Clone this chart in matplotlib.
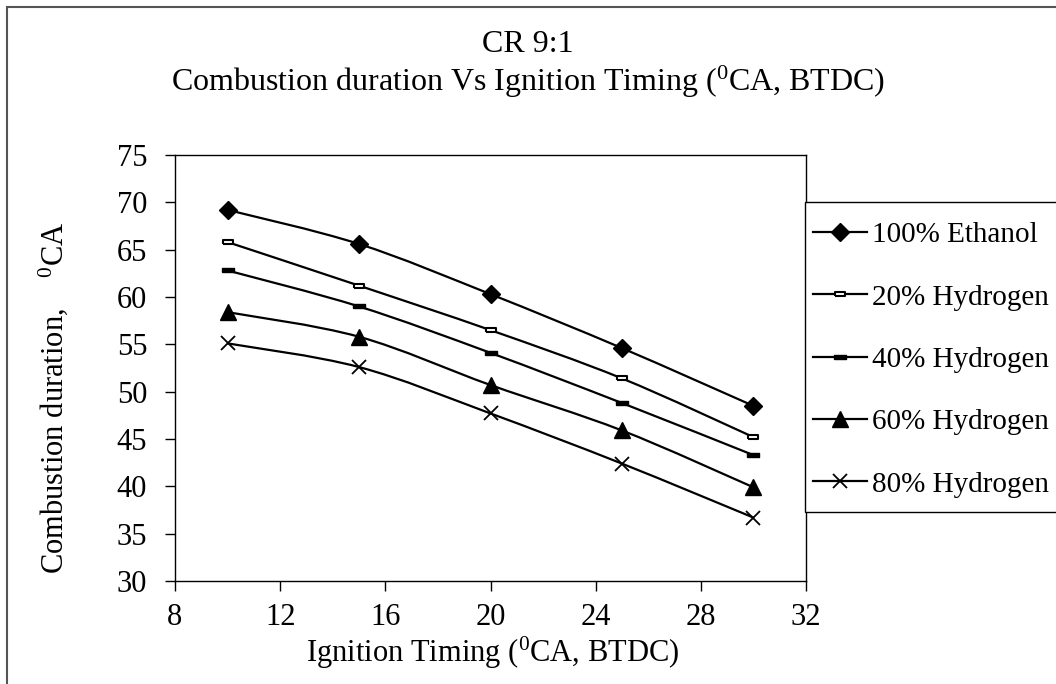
import matplotlib
matplotlib.use("Agg")
import matplotlib.pyplot as plt
import numpy as np
from matplotlib.path import Path
from matplotlib.patches import PathPatch, Rectangle
from matplotlib.lines import Line2D

plt.rcParams["font.family"] = ["Liberation Serif", "DejaVu Serif"]
plt.rcParams["mathtext.fontset"] = "custom"
plt.rcParams["mathtext.rm"] = "Liberation Serif"
plt.rcParams["mathtext.it"] = "Liberation Serif:italic"

# Ignition timing (deg CA BTDC) and combustion duration (deg CA)
ignition = [10, 15, 20, 25, 30]
ethanol_100 = [69.2, 65.6, 60.3, 54.6, 48.5]
hydrogen_20 = [65.8, 61.2, 56.5, 51.4, 45.2]
hydrogen_40 = [62.8, 59.0, 54.1, 48.8, 43.3]
hydrogen_60 = [58.4, 55.8, 50.7, 45.9, 39.9]
hydrogen_80 = [55.1, 52.6, 47.7, 42.4, 36.7]

series_labels = ["100% Ethanol", "20% Hydrogen", "40% Hydrogen",
                 "60% Hydrogen", "80% Hydrogen"]
series_values = [ethanol_100, hydrogen_20, hydrogen_40, hydrogen_60, hydrogen_80]

W, H = 1056, 684

# flat dash markers for the 20% / 40% series
_dash = [(-1, -0.38), (1, -0.38), (1, 0.38), (-1, 0.38), (-1, -0.38)]
marker_styles = [
    dict(marker="D", ms=9, mfc="black", mec="black"),
    dict(marker=_dash, ms=6.5, mfc="white", mec="black", mew=1.5),
    dict(marker=_dash, ms=9, mfc="black", mec="black"),
    dict(marker="^", ms=11, mfc="black", mec="black"),
    dict(marker="x", ms=10, mfc="black", mec="black", mew=1.3),
]


def smooth_path(x, y):
    """Catmull-Rom style smoothed line through the points, as cubic Beziers."""
    pts = np.column_stack([x, y]).astype(float)
    n = len(pts)
    verts = [pts[0]]
    codes = [Path.MOVETO]
    for i in range(n - 1):
        p0 = pts[i - 1] if i > 0 else pts[i]
        p1 = pts[i]
        p2 = pts[i + 1]
        p3 = pts[i + 2] if i + 2 < n else pts[i + 1]
        c1 = p1 + (p2 - p0) / 6.0
        c2 = p2 - (p3 - p1) / 6.0
        verts += [c1, c2, p2]
        codes += [Path.CURVE4] * 3
    return Path(verts, codes)


fig = plt.figure(figsize=(W / 100, H / 100), dpi=100)
ax = fig.add_axes([175 / W, 1 - 581 / H, (806 - 175) / W, (581 - 155) / H])

handles = []
for vals, label, ms in zip(series_values, series_labels, marker_styles):
    ax.add_patch(PathPatch(smooth_path(ignition, vals), fill=False,
                           edgecolor="black", lw=1.6, zorder=2))
    ax.plot(ignition, vals, ls="none", zorder=3, **ms)
    handles.append(Line2D([], [], color="black", lw=1.6, label=label, **ms))

ax.set_xlim(8, 32)
ax.set_ylim(30, 75)
ax.set_xticks(np.arange(8, 33, 4))
ax.set_yticks(np.arange(30, 76, 5))
ax.tick_params(direction="out", length=7, width=1, labelsize=22)
ax.tick_params(axis="y", pad=13)
ax.tick_params(axis="x", pad=9)
for sp in ax.spines.values():
    sp.set_linewidth(1.0)

# axis titles placed in figure pixels
fig.text(493 / W, 1 - 662 / H, "Ignition Timing ($^{0}$CA, BTDC)",
         ha="center", va="baseline", fontsize=22)
fig.text(53 / W, 1 - 398 / H, "Combustion duration,    $^{0}$CA",
         ha="center", va="center", rotation=90, fontsize=22)

fig.text(528 / W, 1 - 44 / H, "CR 9:1", ha="center", va="center", fontsize=23)
fig.text(528 / W, 1 - 82 / H,
         "Combustion duration Vs Ignition Timing ($^{0}$CA, BTDC)",
         ha="center", va="center", fontsize=23)

leg = fig.legend(handles=handles, loc="upper left",
                 bbox_to_anchor=(813 / W, 1 - 222 / H),
                 fontsize=21, frameon=False,
                 handlelength=1.85, handletextpad=0.17, labelspacing=1.23,
                 borderpad=0, borderaxespad=0)
fig.patches.append(Rectangle((805 / W, 1 - 512 / H), 300 / W, 310 / H,
                             transform=fig.transFigure, fill=True,
                             facecolor="white", edgecolor="black", lw=1.0,
                             zorder=1))

# outer chart border running off the right and bottom edges
fig.patches.append(Rectangle((7 / W, -0.1), 1.2, 1 - 7 / H + 0.1,
                             transform=fig.transFigure, fill=False,
                             edgecolor="#555555", lw=1.5))

fig.savefig("out.png", dpi=100)
